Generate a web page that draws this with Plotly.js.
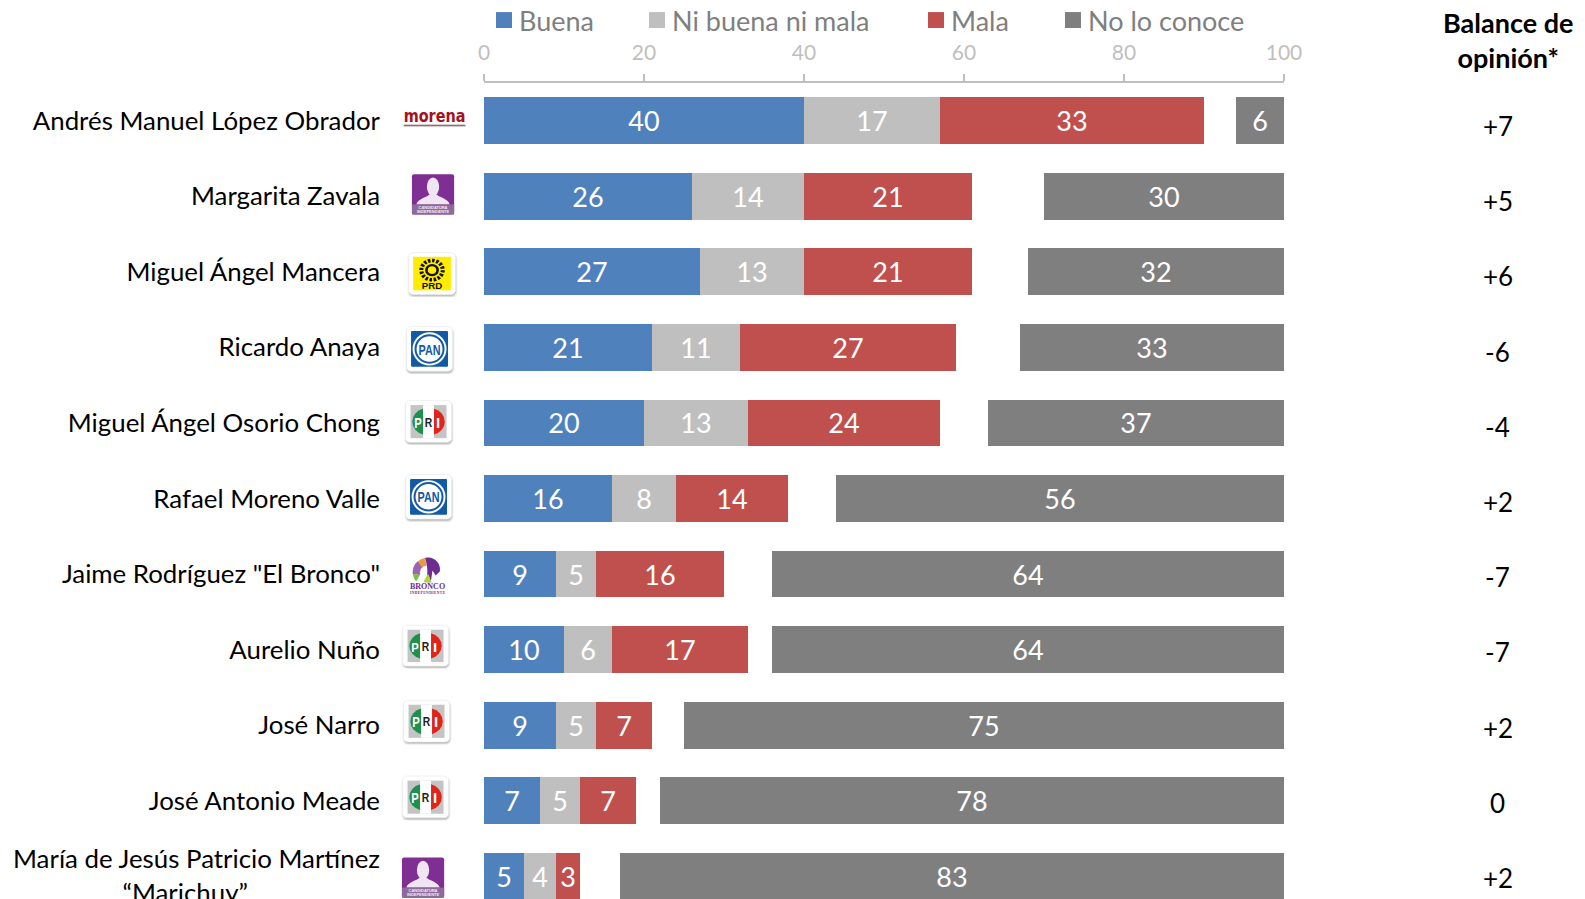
<!DOCTYPE html>
<html><head><meta charset="utf-8">
<script src="https://cdn.plot.ly/plotly-3.0.1.min.js"></script>
<style>html,body{margin:0;padding:0;background:#fff;overflow:hidden;height:899px}#chart{width:1585px;height:939px;margin-top:-8px}</style>
</head><body><div id="chart"></div>
<script>
const candidates = ["Andrés Manuel López Obrador","Margarita Zavala","Miguel Ángel Mancera","Ricardo Anaya","Miguel Ángel Osorio Chong","Rafael Moreno Valle","Jaime Rodríguez \"El Bronco\"","Aurelio Nuño","José Narro","José Antonio Meade","María de Jesús Patricio Martínez<br>“Marichuy”\u00A0\u00A0\u00A0\u00A0\u00A0\u00A0\u00A0\u00A0\u00A0\u00A0\u00A0\u00A0\u00A0\u00A0\u00A0\u00A0\u00A0\u00A0\u00A0\u00A0"];
const buena = [40,26,27,21,20,16,9,10,9,7,5];
const niBuenaNiMala = [17,14,13,11,13,8,5,6,5,5,4];
const mala = [33,21,21,27,24,14,16,17,7,7,3];
const noLoConoce = [6,30,32,33,37,56,64,64,75,78,83];
const balance = ["+7","+5","+6","-6","-4","+2","-7","-7","+2","0","+2"];
const xTicks = [0,20,40,60,80,100];

const FONT = "Lato, Carlito, sans-serif";
const OFF = 8;
const W = 1585, H = 939;
const M = {l:484, r:W-1284.5, t:82.5+OFF, b:H-(914.5+OFF)};
const plotW = W-M.l-M.r, plotH = H-M.t-M.b;

function barTrace(name, vals, color, legend, extra){
  return Object.assign({type:'bar', orientation:'h', name, y:candidates, x:vals, legend,
    marker:{color, line:{width:0}}, text:vals.map(String), textposition:'inside', insidetextanchor:'middle',
    constraintext:'none', textangle:0,
    textfont:{family:FONT,size:27,color:'#ffffff'}, hoverinfo:'name+x'}, extra||{});
}
const traces = [
  barTrace('Buena', buena, '#4f81bd', 'legend'),
  barTrace('Ni buena ni mala', niBuenaNiMala, '#bfbfbf', 'legend2'),
  barTrace('Mala', mala, '#c0504d', 'legend3'),
  barTrace('No lo conoce', noLoConoce, '#7f7f7f', 'legend4', {xaxis:'x2'})
];

function svgUri(s){return 'data:image/svg+xml;charset=utf-8,'+encodeURIComponent('<svg xmlns="http://www.w3.org/2000/svg" viewBox="0 0 100 100" preserveAspectRatio="none"><defs><filter id="b" x="-20%" y="-20%" width="140%" height="140%"><feGaussianBlur stdDeviation="2.5"/></filter></defs>'+s+'</svg>');}
const tile = '<rect x="4" y="7" width="92" height="91" rx="9" fill="#777" opacity=".6" filter="url(#b)"/><rect x="3" y="3" width="92" height="91" rx="9" fill="#fff" stroke="#ececec" stroke-width="1.5"/>';
const logoPAN = svgUri(tile+'<rect x="12" y="12" width="74" height="73" rx="2" fill="#1259a6"/><circle cx="49" cy="48.5" r="34" fill="#fff"/><circle cx="49" cy="48.5" r="28" fill="#fff" stroke="#1259a6" stroke-width="4"/><text x="49" y="60" font-family="Liberation Sans" font-weight="700" font-size="31" text-anchor="middle" textLength="44" lengthAdjust="spacingAndGlyphs" fill="#1259a6">PAN</text>');
const logoPRI = svgUri(tile+'<rect x="13" y="13" width="72" height="72" fill="#c4c4c4"/><rect x="38" y="13" width="22" height="72" fill="#fff"/><path d="M38 21A29 29 0 0 0 38 77Z" fill="#1f8f4d"/><path d="M60 21A29 29 0 0 1 60 77Z" fill="#e2231a"/><text x="28" y="62" font-family="Liberation Sans" font-weight="700" font-size="30" text-anchor="middle" textLength="15" lengthAdjust="spacingAndGlyphs" fill="#fff">P</text><text x="49" y="60" font-family="Liberation Sans" font-weight="700" font-size="28" text-anchor="middle" textLength="15" lengthAdjust="spacingAndGlyphs" fill="#222">R</text><text x="68" y="62" font-family="Liberation Sans" font-weight="700" font-size="30" text-anchor="middle" fill="#fff">I</text>');
const logoPRD = svgUri(tile+'<rect x="12" y="12" width="74" height="73" fill="#ffec00"/><circle cx="49" cy="41" r="21" fill="none" stroke="#111" stroke-width="8" stroke-dasharray="5 3.2"/><circle cx="49" cy="41" r="11" fill="none" stroke="#111" stroke-width="5"/><text x="49" y="81" font-family="Liberation Sans" font-weight="700" font-size="19" text-anchor="middle" fill="#111">PRD</text>');
const logoInd = svgUri('<rect x="2" y="2" width="96" height="96" rx="5" fill="#7f2f93"/><ellipse cx="50" cy="32" rx="14" ry="22" fill="#f0e6f3"/><path d="M12 74C16 60 36 58 42 50H58C64 58 84 60 88 74Z" fill="#f0e6f3"/><rect x="2" y="74" width="96" height="24" fill="#8e6a9c"/><text x="50" y="84" font-family="Liberation Sans" font-size="9" font-weight="700" text-anchor="middle" fill="#f3eaf5">CANDIDATURA</text><text x="50" y="94" font-family="Liberation Sans" font-size="9" font-weight="700" text-anchor="middle" fill="#f3eaf5">INDEPENDIENTE</text>');
const logoMorena = svgUri('<g transform="scale(1,3.9)"><text x="50" y="17" font-family="DejaVu Sans" font-weight="700" font-size="24" text-anchor="middle" textLength="98" lengthAdjust="spacingAndGlyphs" fill="#a8101c">morena</text></g><rect x="1" y="80" width="98" height="9" fill="#8a7070"/>');
const logoBronco = svgUri('<path d="M14 50A36 36 0 0 1 44 12L48 30A18 18 0 0 0 32 52Z" fill="#e89a4a"/><path d="M14 50A36 36 0 0 1 26 20L36 34A18 18 0 0 0 32 52Z" fill="#9a63b5"/><path d="M22 68A36 36 0 0 1 14 50L32 52Z" fill="#7bbf4a"/><path d="M44 12C64 6 84 24 80 44L70 54 62 42 58 70H46C52 50 50 30 44 12Z" fill="#6d2c8f"/><path d="M40 70C44 60 48 54 52 50L60 70Z" fill="#b5d334"/><text x="50" y="86" font-family="Liberation Serif" font-weight="700" font-size="18" text-anchor="middle" textLength="86" lengthAdjust="spacingAndGlyphs" fill="#6d2c8f">BRONCO</text><text x="50" y="97" font-family="Liberation Serif" font-size="9" font-weight="700" text-anchor="middle" textLength="86" fill="#6d2c8f">INDEPENDIENTE</text>');

function img(source,x0,x1,y0,y1){
  return {source,xref:'paper',yref:'paper',x:(x0-M.l)/plotW,y:1-(y0+OFF-M.t)/plotH,
    sizex:(x1-x0)/plotW,sizey:(y1-y0)/plotH,xanchor:'left',yanchor:'top',sizing:'stretch',layer:'above'};
}
const images = [
  img(logoMorena,403,466,109,128),
  img(logoInd,411,455,173,215),
  img(logoPRD,407,458,251,297),
  img(logoPAN,405,455,325,374),
  img(logoPRI,404,454,399,445),
  img(logoPAN,404,454,473,522),
  img(logoBronco,407,448,553,595),
  img(logoPRI,401,451,624,669),
  img(logoPRI,402,452,699,745),
  img(logoPRI,401,451,775,821),
  img(logoInd,401,445,857,899)
];

function legendAt(px){
  return {orientation:'h',xref:'container',yref:'container',x:px/W,xanchor:'left',
    y:1-4/H,yanchor:'top',bgcolor:'rgba(0,0,0,0)',itemwidth:30,itemclick:false,itemdoubleclick:false,
    font:{family:FONT,size:27,color:'#7f7f7f'}};
}
const annotations = balance.map((b,i)=>({xref:'paper',yref:'y',x:(1498.5-M.l)/plotW,y:candidates[i],text:b,showarrow:false,
  xanchor:'center',yanchor:'middle',yshift:-5+i*0.3,font:{family:FONT,size:26,color:'#000'}}));
annotations.push({xref:'paper',yref:'paper',x:(1508.5-M.l)/plotW,y:1+(82.5-39)/plotH,
  text:'<b>Balance de<br>opinión*</b>',showarrow:false,xanchor:'center',yanchor:'middle',align:'center',
  font:{family:FONT,size:27,color:'#000'}});

const layout = {
  width:W,height:H,margin:M,paper_bgcolor:'#fff',plot_bgcolor:'#fff',barmode:'stack',bargap:0.38,
  font:{family:FONT},showlegend:true,
  xaxis:{range:[0,100],side:'top',tickvals:xTicks,ticks:'outside',ticklen:7,tickwidth:2,tickcolor:'#bfbfbf',
    showline:true,linecolor:'#bfbfbf',linewidth:2,showgrid:false,zeroline:false,ticklabelstandoff:6,
    tickfont:{family:FONT,size:21,color:'#bfbfbf'},fixedrange:true},
  xaxis2:{range:[100,0],overlaying:'x',anchor:'y',side:'top',visible:false,fixedrange:true},
  yaxis:{type:'category',autorange:'reversed',showline:false,showgrid:false,zeroline:false,ticks:'',
    ticklabelstandoff:103,tickfont:{family:FONT,size:25.85,color:'#000'},fixedrange:true},
  legend:legendAt(479),legend2:legendAt(632),legend3:legendAt(911),legend4:legendAt(1048),
  images,annotations
};
Plotly.newPlot('chart',traces,layout,{displayModeBar:false,responsive:false}).then(()=>{
  document.querySelectorAll('.legendpoints path').forEach(p=>p.setAttribute('transform','translate(25,0) scale(1.33)'));
});
</script></body></html>
